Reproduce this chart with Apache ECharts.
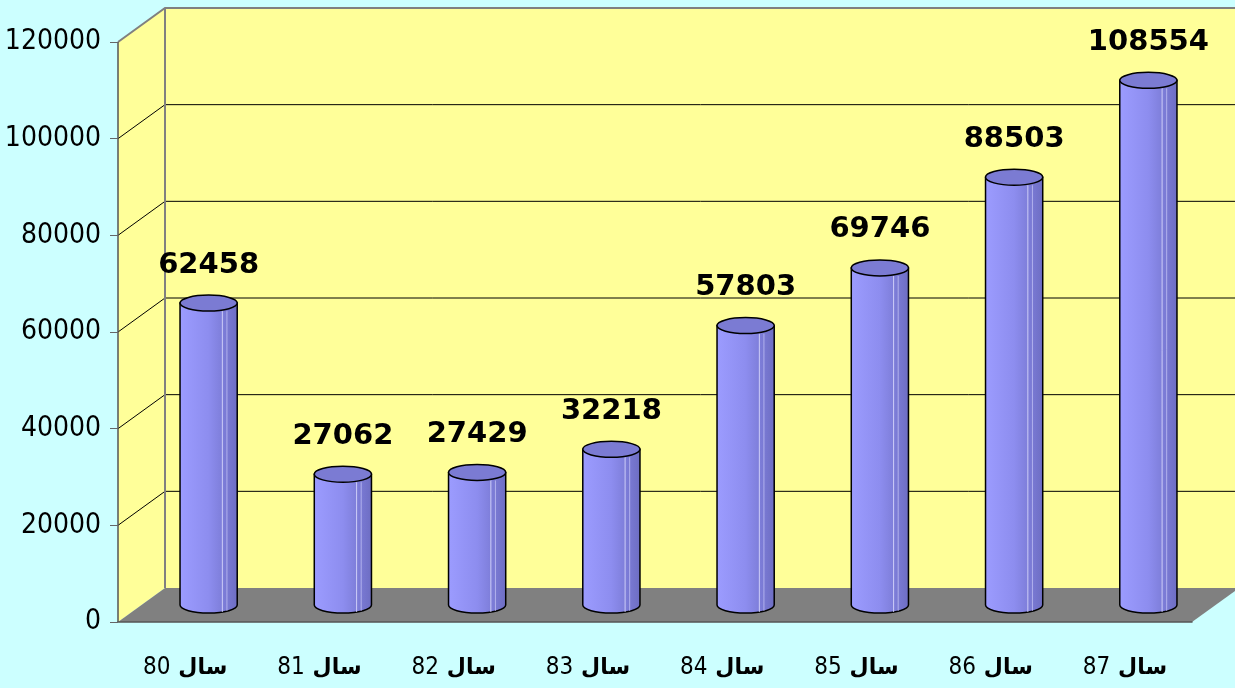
<!DOCTYPE html>
<html>
<head>
<meta charset="utf-8">
<script src="https://cdn.jsdelivr.net/npm/echarts@6/dist/echarts.min.js"></script>
<style>
  html, body { margin: 0; padding: 0; background: #ccffff; }
  #chart { width: 1235px; height: 688px; }
</style>
</head>
<body>
<div id="chart"></div>
<script>
const years = ['80', '81', '82', '83', '84', '85', '86', '87']
const yearWord = 'سال'
const values = [62458, 27062, 27429, 32218, 57803, 69746, 88503, 108554]
const yMax = 120000
const yStep = 20000

// 3D depth of the plot box
const DX = 47
const DY = 34

function hasFont(name) {
  const ctx = document.createElement('canvas').getContext('2d')
  ctx.font = '32px monospace'
  const a = ctx.measureText('120000 abc').width
  ctx.font = `32px "${name}", monospace`
  return ctx.measureText('120000 abc').width !== a
}
let narrow = 'Liberation Sans'
let narrowSize = 27
let numSize = 22
if (hasFont('Liberation Sans Narrow')) { narrow = 'Liberation Sans Narrow'; narrowSize = 32; numSize = 25 }
else if (hasFont('DejaVu Sans Condensed')) { narrow = 'DejaVu Sans Condensed'; narrowSize = 28; numSize = 24 }

function renderWalls(params, api) {
  const cs = params.coordSys
  const x0 = cs.x, x1 = cs.x + cs.width
  const yTop = cs.y, yBot = cs.y + cs.height
  const children = [
    { type: 'polygon', shape: { points: [[x0, yTop], [x0 + DX, yTop - DY], [x0 + DX, yBot - DY], [x0, yBot]] }, style: { fill: '#ffff99' } },
    { type: 'rect', shape: { x: x0 + DX, y: yTop - DY, width: cs.width + 20, height: cs.height }, style: { fill: '#ffff99' } },
    { type: 'polygon', shape: { points: [[x0, yBot], [x0 + DX, yBot - DY], [x1 + DX, yBot - DY], [x1, yBot]] }, style: { fill: '#808080' } },
  ]
  for (let t = yStep; t < yMax; t += yStep) {
    const y = api.coord([0, t])[1]
    children.push({ type: 'polyline', shape: { points: [[x0, y], [x0 + DX, y - DY], [x1 + DX + 20, y - DY]] }, style: { stroke: '#000', lineWidth: 1, fill: null } })
  }
  children.push({ type: 'polyline', shape: { points: [[x0, yTop], [x0 + DX, yTop - DY], [x1 + DX + 20, yTop - DY]] }, style: { stroke: '#808080', lineWidth: 2, fill: null } })
  children.push({ type: 'line', shape: { x1: x0 + DX, y1: yTop - DY, x2: x0 + DX, y2: yBot - DY }, style: { stroke: '#808080', lineWidth: 2 } })
  children.push({ type: 'line', shape: { x1: x0, y1: yTop, x2: x0, y2: yBot }, style: { stroke: '#555', lineWidth: 1.5 } })
  return { type: 'group', children }
}

function renderCylinder(params, api) {
  const i = api.value(0), v = api.value(1)
  const top = api.coord([i, v])
  const base = api.coord([i, 0])
  const bw = api.size([1, 0])[0]
  const rx = bw * 0.213, ry = 8
  const cx = top[0] + DX / 2
  const topY = top[1] - DY / 2
  const botY = base[1] - DY / 2
  const l = cx - rx, r = cx + rx
  return {
    type: 'group',
    children: [
      {
        type: 'path',
        shape: { pathData: `M${l} ${topY} L${l} ${botY} A${rx} ${ry} 0 0 0 ${r} ${botY} L${r} ${topY} Z` },
        style: {
          fill: { type: 'linear', x: 0, y: 0, x2: 1, y2: 0, colorStops: [
            { offset: 0, color: '#9c9cff' }, { offset: 0.5, color: '#8d8def' }, { offset: 1, color: '#6d6dc2' } ] },
          stroke: '#000', lineWidth: 1.5,
        },
      },
      { type: 'line', shape: { x1: l + rx * 2 * 0.74, y1: topY + ry, x2: l + rx * 2 * 0.74, y2: botY + ry - 1 }, style: { stroke: 'rgba(225,225,255,0.8)', lineWidth: 1 } },
      { type: 'line', shape: { x1: l + rx * 2 * 0.82, y1: topY + ry, x2: l + rx * 2 * 0.82, y2: botY + ry - 2 }, style: { stroke: 'rgba(215,215,255,0.6)', lineWidth: 1 } },
      { type: 'ellipse', shape: { cx, cy: topY, rx, ry }, style: { fill: '#7b7bd3', stroke: '#000', lineWidth: 1.5 } },
      {
        type: 'text',
        style: { text: String(v), x: cx, y: topY - 38, align: 'center', verticalAlign: 'middle',
          fill: '#000', fontSize: 29, fontWeight: 'bold', fontFamily: 'DejaVu Sans' },
      },
    ],
  }
}

const chart = echarts.init(document.getElementById('chart'))
chart.setOption({
  backgroundColor: '#ccffff',
  animation: false,
  grid: { left: 118, right: 43, top: 42, bottom: 66 },
  xAxis: {
    type: 'category',
    data: years,
    z: 10,
    axisLine: { lineStyle: { color: '#555', width: 1.5 } },
    axisTick: { length: 10, lineStyle: { color: '#555' } },
    axisLabel: {
      margin: 31,
      interval: 0,
      formatter: (y) => `{n|${y}}{s| }{a|${yearWord}}`,
      rich: {
        n: { fontFamily: narrow, fontSize: numSize, color: '#000', lineHeight: 30 },
        s: { fontFamily: narrow, fontSize: numSize, width: 8, lineHeight: 30 },
        a: { fontFamily: 'DejaVu Sans', fontWeight: 'bold', fontSize: 22, color: '#000', lineHeight: 30 },
      },
    },
  },
  yAxis: {
    type: 'value',
    min: 0,
    max: yMax,
    interval: yStep,
    z: 10,
    axisLine: { show: false },
    axisTick: { show: true, length: 8, lineStyle: { color: '#666' } },
    splitLine: { show: false },
    axisLabel: { margin: 17, color: '#000', fontFamily: narrow, fontSize: narrowSize, fontWeight: 500, formatter: (v) => String(v) },
  },
  series: [
    { type: 'custom', z: 1, silent: true, renderItem: renderWalls, data: [[0, 0]] },
    { type: 'custom', z: 3, silent: true, renderItem: renderCylinder, data: values.map((v, i) => [i, v]) },
  ],
})
</script>
</body>
</html>
